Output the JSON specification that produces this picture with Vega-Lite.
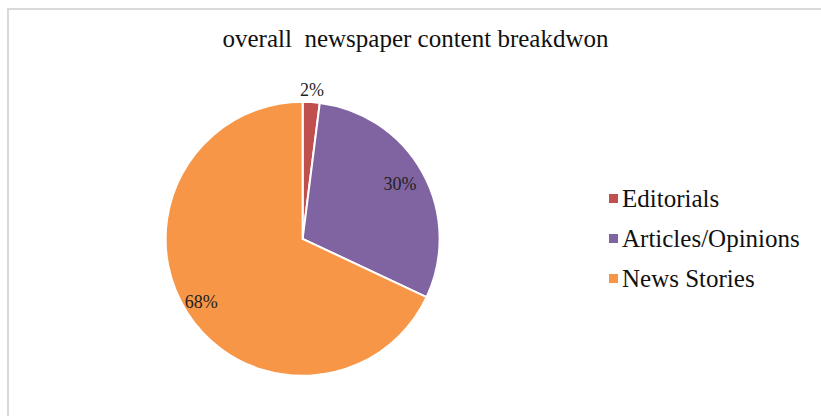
{
  "$schema": "https://vega.github.io/schema/vega-lite/v6.json",
  "autosize": {"type": "fit", "contains": "padding"},
  "width": 821,
  "height": 416,
  "padding": {"left": 7, "top": 8, "right": -3, "bottom": -3},
  "background": "white",
  "title": {
    "text": "overall\u00a0 newspaper content breakdwon",
    "font": "Liberation Serif",
    "fontSize": 25,
    "fontWeight": "normal",
    "color": "#111111",
    "baseline": "alphabetic",
    "anchor": "middle",
    "offset": -64
  },
  "data": {
    "values": [
      {"Category": "Editorials", "Share": 0.02},
      {"Category": "Articles/Opinions", "Share": 0.30},
      {"Category": "News Stories", "Share": 0.68}
    ]
  },
  "layer": [
    {
      "data": {"values": [{"Frame": "chart area"}]},
      "mark": {"type": "rect", "filled": false, "stroke": "#D9D9D9", "strokeWidth": 2}
    },
    {
      "encoding": {
        "theta": {"field": "Share", "type": "quantitative", "stack": true},
        "order": {"field": "Share", "type": "quantitative", "sort": "ascending"}
      },
      "layer": [
        {
          "mark": {"type": "arc", "outerRadius": 137, "x": {"expr": "width*0.3615"}, "y": {"expr": "height*0.562"}, "stroke": "white", "strokeWidth": 2},
          "encoding": {
            "color": {
              "field": "Category", "type": "nominal", "sort": null,
              "scale": {"domain": ["Editorials", "Articles/Opinions", "News Stories"], "range": ["#C0504D", "#8064A2", "#F79646"]},
              "legend": {
                "title": null, "orient": "none", "legendX": 593, "legendY": 177, "direction": "vertical",
                "symbolType": "square", "symbolSize": 81, "symbolStrokeWidth": 0, "labelOffset": -4,
                "labelFont": "Liberation Serif", "labelFontSize": 25, "labelColor": "#111111",
                "rowPadding": 14, "padding": 0, "labelLimit": 300
              }
            }
          }
        },
        {
          "mark": {"type": "text", "radius": 148, "x": {"expr": "width*0.3615"}, "y": {"expr": "height*0.562"}, "font": "Liberation Serif", "fontSize": 18, "fill": "#1F1F1F"},
          "encoding": {
            "text": {"condition": {"test": "datum.Category === 'Editorials'", "field": "Share", "type": "quantitative", "format": ".0%"}, "value": ""}
          }
        },
        {
          "mark": {"type": "text", "radius": 111, "x": {"expr": "width*0.3615"}, "y": {"expr": "height*0.562"}, "font": "Liberation Serif", "fontSize": 18, "fill": "#1F1F1F"},
          "encoding": {
            "text": {"condition": {"test": "datum.Category === 'Articles/Opinions'", "field": "Share", "type": "quantitative", "format": ".0%"}, "value": ""}
          }
        },
        {
          "mark": {"type": "text", "radius": 120, "x": {"expr": "width*0.3615"}, "y": {"expr": "height*0.562"}, "font": "Liberation Serif", "fontSize": 18, "fill": "#1F1F1F"},
          "encoding": {
            "text": {"condition": {"test": "datum.Category === 'News Stories'", "field": "Share", "type": "quantitative", "format": ".0%"}, "value": ""}
          }
        }
      ]
    }
  ],
  "config": {
    "view": {"stroke": null}
  }
}
